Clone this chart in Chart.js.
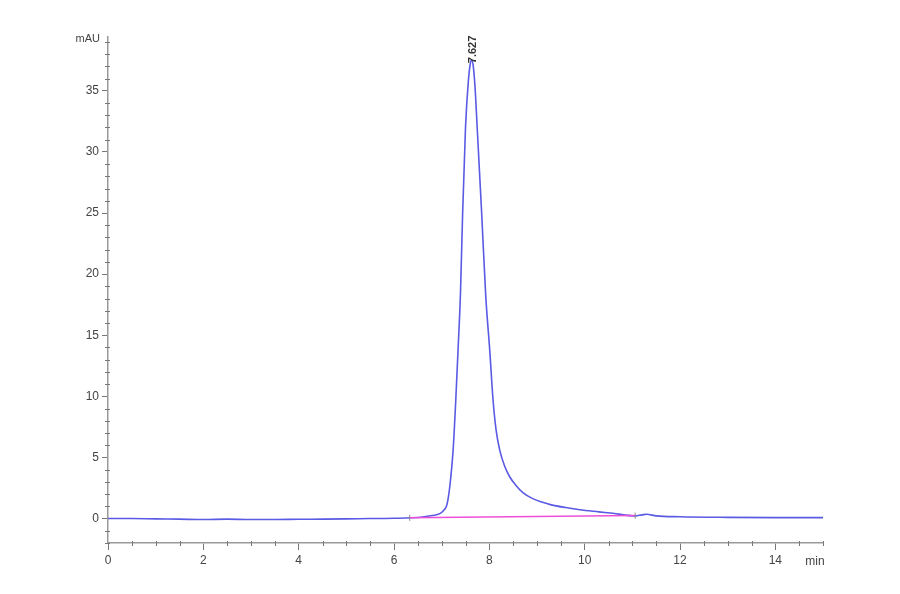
<!DOCTYPE html>
<html>
<head>
<meta charset="utf-8">
<script src="https://cdn.jsdelivr.net/npm/chart.js@4.4.1/dist/chart.umd.min.js"></script>
<style>
  html, body { margin: 0; padding: 0; background: #fff; }
  #wrap { width: 900px; height: 594px; position: relative; }
</style>
</head>
<body>
<div id="wrap"><canvas id="chromChart"></canvas></div>
<script>
// retention time (min) and signal (mAU)
const times = [0, 0.5, 1.0, 1.5, 2.0, 2.5, 3.0, 3.5, 4.0, 4.5, 5.0, 5.5, 6.0, 6.33, 6.6, 6.8, 6.96, 7.05, 7.1, 7.13, 7.17, 7.24, 7.296, 7.344, 7.395, 7.44, 7.5, 7.56, 7.6, 7.627, 7.66, 7.7, 7.745, 7.835, 7.925, 8.008, 8.078, 8.14, 8.218, 8.32, 8.43, 8.55, 8.71, 8.9, 9.1, 9.3, 9.6, 9.9, 10.3, 10.59, 11.06, 11.2, 11.3, 11.5, 12.0, 13.0, 14.0, 15.0];
const signal = [0, 0.0, -0.03, -0.05, -0.08, -0.05, -0.08, -0.08, -0.06, -0.05, -0.03, 0.0, 0.02, 0.06, 0.13, 0.25, 0.4, 0.7, 1.0, 1.5, 2.6, 5.6, 9.7, 13.8, 18.5, 25.0, 32.0, 35.8, 37.2, 37.5, 37.1, 35.3, 32.0, 25.3, 18.2, 13.8, 9.7, 7.3, 5.6, 4.3, 3.4, 2.75, 2.1, 1.65, 1.35, 1.12, 0.9, 0.72, 0.55, 0.43, 0.22, 0.3, 0.35, 0.22, 0.15, 0.1, 0.08, 0.08];

// integration baseline (start / end of peak)
const baseTimes = [6.33, 11.06];
const baseSignal = [0.06, 0.24];

const peakTime = 7.627;
const peakLabel = '7.627';

const xTickStep = 2, xMinorStep = 0.5;
const yTickStep = 5, yMinorStep = 1;

const axisColor = '#9a9a9a';
const labelColor = '#444';

// minor ticks, unit labels and the peak annotation
const decorations = {
  id: 'decorations',
  afterDraw(chart) {
    const { ctx, chartArea, scales: { x, y } } = chart;
    ctx.save();
    ctx.strokeStyle = '#777';
    ctx.lineWidth = 1;
    for (let v = x.min; v <= x.max + 1e-9; v += xMinorStep) {
      if (Math.abs(v / xTickStep - Math.round(v / xTickStep)) < 1e-6) continue;
      const px = Math.round(x.getPixelForValue(v)) + 0.5;
      ctx.beginPath();
      ctx.moveTo(px, chartArea.bottom - 2);
      ctx.lineTo(px, chartArea.bottom + 3);
      ctx.stroke();
    }
    for (let v = Math.ceil(y.min); v <= y.max; v += yMinorStep) {
      if (v % yTickStep === 0) continue;
      const py = Math.round(y.getPixelForValue(v)) + 0.5;
      ctx.beginPath();
      ctx.moveTo(chartArea.left - 3, py);
      ctx.lineTo(chartArea.left + 2, py);
      ctx.stroke();
    }

    ctx.fillStyle = labelColor;
    ctx.font = '11px "Liberation Sans", Arial, sans-serif';
    ctx.textBaseline = 'middle';
    ctx.textAlign = 'right';
    ctx.fillText('mAU', chartArea.left - 8, chartArea.top + 2);
    ctx.font = '12px "Liberation Sans", Arial, sans-serif';
    ctx.textAlign = 'center';
    ctx.fillText('min', x.getPixelForValue(x.max) - 8, chartArea.bottom + 19);

    // peak retention time, rotated
    const px = x.getPixelForValue(peakTime);
    const topY = y.getPixelForValue(37.5);
    ctx.translate(px + 1, topY + 3);
    ctx.rotate(-Math.PI / 2);
    ctx.font = 'bold 11px "Liberation Sans", Arial, sans-serif';
    ctx.fillStyle = '#333';
    ctx.textAlign = 'left';
    ctx.fillText(peakLabel, 0, 0);
    ctx.restore();

    // baseline start/end marks
    ctx.save();
    ctx.strokeStyle = '#888';
    baseTimes.forEach((t, i) => {
      const bx = x.getPixelForValue(t);
      const by = y.getPixelForValue(baseSignal[i]);
      ctx.beginPath();
      ctx.moveTo(bx, by - 3);
      ctx.lineTo(bx, by + 3);
      ctx.stroke();
    });
    ctx.restore();
  }
};

new Chart(document.getElementById('chromChart'), {
  type: 'line',
  data: {
    datasets: [
      {
        label: 'baseline',
        data: baseTimes.map((t, i) => ({ x: t, y: baseSignal[i] })),
        borderColor: '#ee4fd8',
        borderWidth: 1.5,
        pointRadius: 0,
        fill: false
      },
      {
        label: 'signal',
        data: times.map((t, i) => ({ x: t, y: signal[i] })),
        borderColor: '#5a5ae4',
        borderWidth: 1.6,
        pointRadius: 0,
        cubicInterpolationMode: 'monotone',
        fill: false
      }
    ]
  },
  options: {
    responsive: true,
    maintainAspectRatio: false,
    animation: false,
    layout: { padding: { top: 37, right: 77, left: 0, bottom: 0 } },
    plugins: {
      legend: { display: false },
      tooltip: { enabled: false }
    },
    scales: {
      x: {
        type: 'linear',
        min: 0,
        max: 15,
        afterFit: s => { s.height = 51; },
        border: { color: axisColor, width: 1.5 },
        grid: { drawOnChartArea: false, tickLength: 7, tickColor: '#777' },
        ticks: {
          stepSize: xTickStep,
          includeBounds: false,
          padding: 3,
          color: labelColor,
          maxRotation: 0,
          font: { family: '"Liberation Sans", Arial, sans-serif', size: 12 }
        }
      },
      y: {
        min: -2,
        max: 39.4,
        afterFit: s => { s.width = 108; },
        border: { color: axisColor, width: 1.5 },
        grid: { drawOnChartArea: false, tickLength: 6, tickColor: '#777' },
        ticks: {
          stepSize: yTickStep,
          includeBounds: false,
          padding: 3,
          color: labelColor,
          font: { family: '"Liberation Sans", Arial, sans-serif', size: 12 }
        }
      }
    }
  },
  plugins: [decorations]
});
</script>
</body>
</html>
